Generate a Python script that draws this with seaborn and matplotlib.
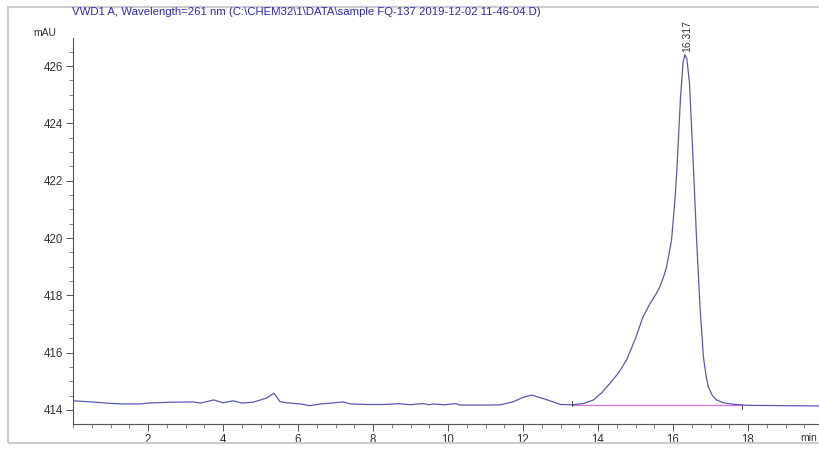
import matplotlib
matplotlib.use("Agg")
import matplotlib.pyplot as plt
from matplotlib.patches import Rectangle
from matplotlib.ticker import MultipleLocator
import seaborn as sns
import pandas as pd

# ---- data ----
time_min = [0.0, 0.5, 1.0, 1.3, 1.8, 2.0, 2.6, 3.2, 3.4, 3.75, 4.0, 4.27, 4.5, 4.8,
            5.15, 5.36, 5.52, 5.7, 6.05, 6.32, 6.6, 6.8, 7.2, 7.4, 7.85, 8.3, 8.7,
            9.0, 9.2, 9.35, 9.5, 9.6, 9.9, 10.2, 10.32, 11.0, 11.4, 11.75, 12.0,
            12.23, 12.63, 13.0, 13.3, 13.6, 13.88, 14.1, 14.32, 14.55, 14.76, 15.0,
            15.2, 15.39, 15.55, 15.65, 15.75, 15.83, 15.96, 16.05, 16.1, 16.2,
            16.27, 16.317, 16.37, 16.44, 16.54, 16.63, 16.72, 16.81, 16.88, 16.94,
            17.05, 17.16, 17.35, 17.6, 18.0, 19.0, 20.0]
signal_mau = [414.32, 414.28, 414.23, 414.21, 414.21, 414.24, 414.27, 414.28, 414.24,
              414.35, 414.25, 414.32, 414.24, 414.27, 414.41, 414.58, 414.29, 414.25,
              414.21, 414.15, 414.21, 414.23, 414.28, 414.21, 414.19, 414.19, 414.22,
              414.18, 414.21, 414.22, 414.18, 414.21, 414.18, 414.22, 414.17, 414.17,
              414.18, 414.29, 414.44, 414.52, 414.36, 414.19, 414.18, 414.22, 414.35,
              414.6, 414.93, 415.3, 415.74, 416.5, 417.25, 417.72, 418.05, 418.3,
              418.65, 419.0, 419.92, 421.3, 422.3, 424.9, 426.15, 426.4, 426.25,
              425.4, 422.6, 419.92, 417.6, 415.86, 415.2, 414.81, 414.5, 414.35,
              414.25, 414.2, 414.16, 414.15, 414.14]

peak_rt = 16.317
peak_height = 426.4
baseline_start = 13.3
baseline_end = 17.83
baseline_level = 414.17

title_text = "VWD1 A, Wavelength=261 nm (C:\\CHEM32\\1\\DATA\\sample FQ-137 2019-12-02 11-46-04.D)"

df = pd.DataFrame({"time": time_min, "signal": signal_mau})
base_df = pd.DataFrame({"time": [baseline_start, baseline_end],
                        "signal": [baseline_level, baseline_level]})

sns.set_style("ticks")
plt.rcParams["font.family"] = ["Liberation Sans", "DejaVu Sans"]

W, H = 819, 449
fig = plt.figure(figsize=(W / 100, H / 100), dpi=100)
ax = fig.add_axes([73 / W, 1 - 424 / H, (W - 73) / W, (424 - 38) / H])

line_col = "#5a5ab4"
sns.lineplot(data=base_df, x="time", y="signal", ax=ax, color="#e070e0",
             linewidth=0.9, estimator=None, sort=False)
sns.lineplot(data=df, x="time", y="signal", ax=ax, color=line_col,
             linewidth=0.9, estimator=None, sort=False)

# integration markers
ax.plot([baseline_start, baseline_start], [baseline_level - 0.02, baseline_level + 0.15],
        color="#404040", linewidth=0.7)
ax.plot([baseline_end, baseline_end], [baseline_level + 0.02, baseline_level - 0.15],
        color="#404040", linewidth=0.7)

ax.set_xlim(0, (W - 73) / 37.5)
ax.set_ylim(413.51, 426.98)
ax.xaxis.set_major_locator(MultipleLocator(2))
ax.xaxis.set_minor_locator(MultipleLocator(0.5))
ax.yaxis.set_major_locator(MultipleLocator(2))
ax.yaxis.set_minor_locator(MultipleLocator(0.5))
ax.set_xticks([2, 4, 6, 8, 10, 12, 14, 16, 18])
ax.set_xlabel("")
ax.set_ylabel("")
ax.tick_params(axis="both", which="major", length=5, width=0.7, colors="#555555",
               labelsize=8.3, labelcolor="#333333", pad=2)
ax.tick_params(axis="both", which="minor", length=3, width=0.6, colors="#777777")
for s in ["top", "right"]:
    ax.spines[s].set_visible(False)
for s in ["left", "bottom"]:
    ax.spines[s].set_color("#555555")
    ax.spines[s].set_linewidth(0.8)

ax.text(peak_rt + 0.05, peak_height + 0.1, f"{peak_rt:.3f}", rotation=90,
        ha="center", va="bottom", fontsize=7.5, color="#333333")

fig.text(45 / W, 1 - 33 / H, "mAU", ha="center", va="center", fontsize=7.5, color="#333333")
fig.text(800 / W, 1 - 438 / H, "min", ha="left", va="center", fontsize=7.5, color="#333333")
fig.text(72 / W, 1 - 12 / H, title_text, ha="left", va="center", fontsize=8.2, color="#2a2ab8")

fig.patches.append(Rectangle((8 / W, 1 - 443 / H), 1.0, (443 - 7) / H,
                             transform=fig.transFigure, fill=False,
                             edgecolor="#cccccc", linewidth=1.5))

fig.savefig("out.png", dpi=100)
